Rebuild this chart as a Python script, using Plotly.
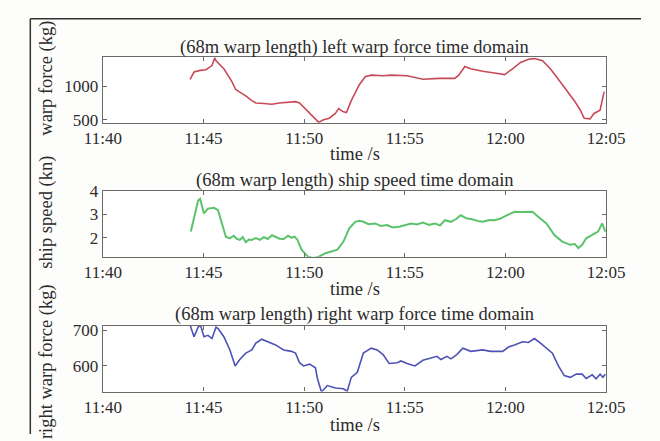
import pandas as pd
import plotly.graph_objects as go

# Sampling times, minutes after 11:40
left_t = [4.33, 4.53, 4.83, 5.12, 5.42, 5.56, 5.62, 6.01, 6.41, 6.6, 6.8, 7.1, 7.4, 7.6, 8.0, 8.39,
          8.78, 9.18, 9.57, 9.77, 9.97, 10.27, 10.56, 10.72, 10.96, 11.25, 11.55, 11.71, 11.95, 12.1,
          12.34, 12.74, 13.03, 13.33, 13.92, 14.32, 15.11, 15.5, 15.9, 16.7, 17.48, 17.68, 17.98,
          18.27, 18.87, 19.46, 19.96, 20.35, 20.75, 21.14, 21.44, 21.84, 22.23, 22.83, 23.42, 23.72,
          23.91, 24.2, 24.4, 24.7, 24.9]
# Left warp force (kg)
left_force = [1105, 1214, 1238, 1248, 1310, 1425, 1381, 1262, 1071, 952, 914, 857, 786, 752, 743, 733,
              752, 762, 771, 752, 690, 595, 500, 462, 500, 524, 595, 667, 619, 610,
              786, 1024, 1143, 1167, 1157, 1167, 1157, 1128, 1105, 1119, 1119, 1167, 1295,
              1262, 1224, 1200, 1176, 1262, 1357, 1405, 1414, 1381, 1262, 1024, 786, 643,
              524, 514, 595, 643, 920]

speed_t = [4.37, 4.53, 4.73, 4.83, 5.02, 5.22, 5.52, 5.72, 5.91, 6.11, 6.3, 6.5, 6.65, 6.8, 6.95, 7.1,
           7.25, 7.4, 7.6, 7.8, 8.0, 8.19, 8.4, 8.58, 8.78, 8.98, 9.2, 9.37, 9.52, 9.67, 9.87, 10.17,
           10.46, 10.76, 11.06, 11.35, 11.65, 11.95, 12.24, 12.54, 12.74, 12.94, 13.2, 13.53, 13.8,
           14.12, 14.4, 14.72, 15.0, 15.31, 15.6, 15.9, 16.2, 16.5, 16.75, 16.99, 17.29, 17.55, 17.78,
           18.08, 18.3, 18.47, 18.7, 18.87, 19.2, 19.46, 19.75, 20.06, 20.25, 20.45, 20.75, 21.04,
           21.34, 21.64, 22.03, 22.43, 22.82, 23.22, 23.45, 23.62, 23.81, 24.01, 24.31, 24.6, 24.8,
           24.96]
# Ship speed (kn)
speed = [2.26, 2.82, 3.6, 3.67, 3.04, 3.25, 3.28, 3.18, 2.61, 2.04, 1.97, 2.08, 1.95, 1.9, 2.02, 1.8,
         1.92, 1.9, 1.98, 1.9, 2.02, 1.94, 2.1, 2.04, 1.95, 1.94, 2.08, 2.0, 2.04, 1.9, 1.48, 1.19,
         1.12, 1.19, 1.33, 1.4, 1.48, 1.83, 2.4, 2.68, 2.72, 2.68, 2.58, 2.61, 2.5,
         2.54, 2.44, 2.47, 2.55, 2.61, 2.57, 2.65, 2.55, 2.61, 2.52, 2.75, 2.68, 2.8, 2.96,
         2.82, 2.8, 2.75, 2.7, 2.68, 2.76, 2.75, 2.82, 2.96, 3.05, 3.11, 3.1, 3.11,
         3.11, 2.89, 2.61, 2.11, 1.83, 1.69, 1.72, 1.55, 1.69, 1.97, 2.11, 2.26, 2.61,
         2.26]

right_t = [4.33, 4.53, 4.73, 4.85, 5.02, 5.22, 5.42, 5.62, 5.72, 6.01, 6.31, 6.57, 6.8, 7.1, 7.4, 7.6,
           7.89, 8.19, 8.58, 8.98, 9.37, 9.57, 9.77, 9.97, 10.27, 10.56, 10.66, 10.86, 11.15, 11.55,
           11.95, 12.14, 12.34, 12.64, 12.94, 13.33, 13.63, 13.92, 14.22, 14.62, 14.81, 15.11, 15.5,
           15.9, 16.3, 16.6, 16.79, 17.09, 17.29, 17.58, 17.88, 18.28, 18.87, 19.26, 19.86, 20.15,
           20.45, 20.85, 21.14, 21.44, 21.74, 22.03, 22.33, 22.63, 22.92, 23.22, 23.52, 23.81, 24.01,
           24.31, 24.5, 24.7, 24.84, 24.96]
# Right warp force (kg)
right_force = [715, 682, 709, 715, 682, 686, 677, 709, 705, 682, 645, 600, 618, 636, 645, 664,
               675, 668, 659, 645, 641, 636, 609, 600, 605, 595, 564, 527, 545, 538,
               536, 529, 568, 582, 636, 650, 645, 632, 607, 609, 614, 607, 600,
               616, 623, 627, 618, 627, 620, 632, 650, 641, 645, 641, 641, 653,
               659, 668, 666, 677, 664, 650, 636, 600, 573, 568, 577, 577, 565,
               575, 564, 577, 568, 577]

titles = ["(68m warp length) left warp force time domain",
          "(68m warp length) ship speed time domain",
          "(68m warp length) right warp force time domain"]
y_titles = ["warp force (kg)", "ship speed (kn)", "right warp force (kg)"]
x_title = "time /s"
y_ranges = [[457, 1435], [1.18, 4.0], [528, 712]]
y_ticks = [[500, 1000], [2, 3, 4], [600, 700]]

W, H = 660, 441
base = pd.Timestamp("2019-01-01 11:40")


def to_time(mins):
    return base + pd.to_timedelta(mins, unit="m")


FONT = "Liberation Serif, Times New Roman, serif"
TXT = "#2b2b2b"
AX = "#6a6a6a"

# panel boxes in pixels: (top, bottom)
x0, x1 = 89, 623
boxes = [(50, 118), (189, 257), (329, 397)]
title_y = [40, 178, 317]
xlabel_y = [150, 291, 432]
ytitle_y = [72, 211, 366]
ytitle_x = 29

series = [(left_t, left_force, "#c84a58", 1.6),
          (speed_t, speed, "#5cc36c", 2.0),
          (right_t, right_force, "#4d52b4", 1.6)]

fig = go.Figure()
for i, (t, v, c, w) in enumerate(series):
    sfx = "" if i == 0 else str(i + 1)
    fig.add_trace(go.Scatter(x=to_time(t), y=v, mode="lines",
                             line=dict(color=c, width=w),
                             xaxis="x" + sfx, yaxis="y" + sfx, showlegend=False))

layout = dict(width=W, height=H, margin=dict(l=0, r=0, t=0, b=0),
              paper_bgcolor="#fdfdfb", plot_bgcolor="#ffffff",
              font=dict(family=FONT, size=17, color=TXT), showlegend=False)

annotations = []
for i, (top, bot) in enumerate(boxes):
    sfx = "" if i == 0 else str(i + 1)
    layout["xaxis" + sfx] = dict(
        domain=[x0 / W, x1 / W], anchor="y" + sfx,
        range=[to_time(0), to_time(25)], type="date",
        tick0=to_time(0), dtick=300000, tickformat="%H:%M",
        ticks="inside", ticklen=4, tickcolor=AX, tickwidth=1,
        showline=True, linecolor=AX, linewidth=1.3, mirror="ticks",
        showgrid=False, zeroline=False,
        tickfont=dict(family=FONT, size=17, color=TXT))
    layout["yaxis" + sfx] = dict(
        domain=[1 - bot / H, 1 - top / H], anchor="x" + sfx,
        range=y_ranges[i], tickvals=y_ticks[i],
        ticks="inside", ticklen=4, tickcolor=AX, tickwidth=1,
        showline=True, linecolor=AX, linewidth=1.3, mirror="ticks",
        showgrid=False, zeroline=False,
        tickfont=dict(family=FONT, size=17, color=TXT))
    cx = (x0 + x1) / 2 / W
    annotations.append(dict(text=titles[i], x=cx, y=1 - title_y[i] / H, xref="paper", yref="paper",
                            showarrow=False, xanchor="center", yanchor="middle",
                            font=dict(family=FONT, size=18.5, color=TXT)))
    annotations.append(dict(text=x_title, x=cx, y=1 - xlabel_y[i] / H, xref="paper", yref="paper",
                            showarrow=False, xanchor="center", yanchor="middle",
                            font=dict(family=FONT, size=18.5, color=TXT)))
    annotations.append(dict(text=y_titles[i], x=ytitle_x / W, y=1 - ytitle_y[i] / H,
                            xref="paper", yref="paper",
                            showarrow=False, xanchor="center", yanchor="middle", textangle=-90,
                            font=dict(family=FONT, size=18.5, color=TXT)))

layout["annotations"] = annotations
# outer frame: top and left edges
layout["shapes"] = [
    dict(type="line", xref="paper", yref="paper", x0=12 / W, x1=1.0, y0=1 - 10 / H, y1=1 - 10 / H,
         line=dict(color="#333333", width=1.5)),
    dict(type="line", xref="paper", yref="paper", x0=12 / W, x1=12 / W, y0=0, y1=1 - 10 / H,
         line=dict(color="#333333", width=1.5)),
]
fig.update_layout(**layout)
fig.write_html("out.html")
